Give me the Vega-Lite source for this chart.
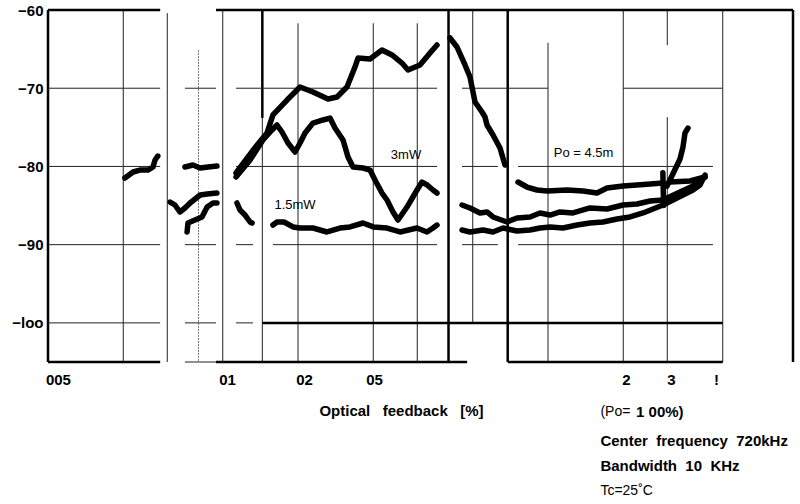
{
  "$schema": "https://vega.github.io/schema/vega-lite/v6.json",
  "width": 750,
  "height": 352,
  "autosize": {"type": "none"},
  "padding": {"left": 48, "top": 10, "right": 2, "bottom": 142},
  "background": "white",
  "config": {"view": {"stroke": null}, "font": "Liberation Sans"},
  "datasets": {
    "vthin": [
      {"pct": 0.02, "db": -60, "db2": -105},
      {"pct": 0.03, "db": -60.4, "db2": -105},
      {"pct": 0.05, "db": -60, "db2": -105},
      {"pct": 0.072, "db": -73.8, "db2": -105},
      {"pct": 0.1, "db": -61.7, "db2": -105},
      {"pct": 0.2, "db": -61.7, "db2": -105},
      {"pct": 0.3, "db": -61.7, "db2": -105},
      {"pct": 0.5, "db": -60, "db2": -100},
      {"pct": 1, "db": -64.2, "db2": -105},
      {"pct": 2, "db": -60, "db2": -105},
      {"pct": 3, "db": -60, "db2": -64.5},
      {"pct": 3, "db": -73.7, "db2": -105},
      {"pct": 5, "db": -60, "db2": -105}
    ],
    "vgray": [
      {"pct": 0.04, "db": -65.1, "db2": -105}
    ],
    "vthick": [
      {"pct": 0.01, "db": -60, "db2": -105},
      {"pct": 0.072, "db": -60, "db2": -73.8},
      {"pct": 0.4, "db": -60, "db2": -105},
      {"pct": 0.69, "db": -60, "db2": -105},
      {"pct": 9.55, "db": -60, "db2": -105}
    ],
    "hthin": [
      {"db": -70, "pct": 0.01, "pct2": 0.0281},
      {"db": -70, "pct": 0.0353, "pct2": 0.047},
      {"db": -70, "pct": 0.0565, "pct2": 0.36},
      {"db": -70, "pct": 0.453, "pct2": 1},
      {"db": -70, "pct": 2, "pct2": 5},
      {"db": -80, "pct": 0.01, "pct2": 0.0281},
      {"db": -80, "pct": 0.0353, "pct2": 0.047},
      {"db": -80, "pct": 0.0565, "pct2": 0.36},
      {"db": -80, "pct": 0.453, "pct2": 0.63},
      {"db": -80, "pct": 0.759, "pct2": 4.57},
      {"db": -90, "pct": 0.01, "pct2": 0.0281},
      {"db": -90, "pct": 0.0353, "pct2": 0.047},
      {"db": -90, "pct": 0.0565, "pct2": 0.0661},
      {"db": -90, "pct": 0.0794, "pct2": 0.36},
      {"db": -90, "pct": 0.453, "pct2": 0.63},
      {"db": -90, "pct": 0.759, "pct2": 4.57},
      {"db": -100, "pct": 0.01, "pct2": 0.0281},
      {"db": -100, "pct": 0.0353, "pct2": 0.047},
      {"db": -100, "pct": 0.0565, "pct2": 0.0661},
      {"db": -105, "pct": 0.0353, "pct2": 0.047}
    ],
    "hthick": [
      {"db": -60, "pct": 0.01, "pct2": 0.0281},
      {"db": -60, "pct": 0.047, "pct2": 9.55},
      {"db": -100, "pct": 0.072, "pct2": 5},
      {"db": -105, "pct": 0.01, "pct2": 0.0281},
      {"db": -105, "pct": 0.047, "pct2": 0.475},
      {"db": -105, "pct": 0.69, "pct2": 5}
    ],
    "curves": [
      {"seg": "a", "pct": 0.0203, "db": -81.48},
      {"seg": "a", "pct": 0.0219, "db": -80.71},
      {"seg": "a", "pct": 0.0233, "db": -80.46},
      {"seg": "a", "pct": 0.0251, "db": -80.46},
      {"seg": "a", "pct": 0.0263, "db": -80.07},
      {"seg": "a", "pct": 0.0268, "db": -79.18},
      {"seg": "a", "pct": 0.0275, "db": -78.67},

      {"seg": "b", "pct": 0.0353, "db": -80.07},
      {"seg": "b", "pct": 0.038, "db": -79.82},
      {"seg": "b", "pct": 0.0406, "db": -80.2},
      {"seg": "b", "pct": 0.0437, "db": -80.07},
      {"seg": "b", "pct": 0.0474, "db": -79.94},

      {"seg": "c", "pct": 0.0308, "db": -84.55},
      {"seg": "c", "pct": 0.0322, "db": -84.93},
      {"seg": "c", "pct": 0.0337, "db": -85.82},
      {"seg": "c", "pct": 0.0353, "db": -85.31},
      {"seg": "c", "pct": 0.037, "db": -84.67},
      {"seg": "c", "pct": 0.0406, "db": -83.65},
      {"seg": "c", "pct": 0.0433, "db": -83.52},
      {"seg": "c", "pct": 0.0474, "db": -83.4},

      {"seg": "d", "pct": 0.036, "db": -88.38},
      {"seg": "d", "pct": 0.0363, "db": -87.23},
      {"seg": "d", "pct": 0.0387, "db": -86.85},
      {"seg": "d", "pct": 0.0413, "db": -86.46},
      {"seg": "d", "pct": 0.0433, "db": -85.19},
      {"seg": "d", "pct": 0.0457, "db": -84.67},
      {"seg": "d", "pct": 0.0474, "db": -84.67},

      {"seg": "e", "pct": 0.057, "db": -84.67},
      {"seg": "e", "pct": 0.0586, "db": -85.57},
      {"seg": "e", "pct": 0.0614, "db": -86.21},
      {"seg": "e", "pct": 0.0643, "db": -87.1},
      {"seg": "e", "pct": 0.0655, "db": -87.23},

      {"seg": "f", "pct": 0.0565, "db": -80.84},
      {"seg": "f", "pct": 0.0614, "db": -79.3},
      {"seg": "f", "pct": 0.0673, "db": -77.6},
      {"seg": "f", "pct": 0.0718, "db": -76.5},
      {"seg": "f", "pct": 0.0752, "db": -75.72},
      {"seg": "f", "pct": 0.0794, "db": -73.42},
      {"seg": "f", "pct": 0.0904, "db": -71.51},
      {"seg": "f", "pct": 0.1019, "db": -69.84},
      {"seg": "f", "pct": 0.1148, "db": -70.48},
      {"seg": "f", "pct": 0.1318, "db": -71.38},
      {"seg": "f", "pct": 0.1432, "db": -71.12},
      {"seg": "f", "pct": 0.157, "db": -69.84},
      {"seg": "f", "pct": 0.169, "db": -67.29},
      {"seg": "f", "pct": 0.1738, "db": -66.14},
      {"seg": "f", "pct": 0.1941, "db": -66.26},
      {"seg": "f", "pct": 0.2168, "db": -65.11},
      {"seg": "f", "pct": 0.2377, "db": -65.75},
      {"seg": "f", "pct": 0.2606, "db": -66.78},
      {"seg": "f", "pct": 0.2754, "db": -67.67},
      {"seg": "f", "pct": 0.3076, "db": -67.03},
      {"seg": "f", "pct": 0.3373, "db": -65.5},
      {"seg": "f", "pct": 0.3597, "db": -64.47},

      {"seg": "g", "pct": 0.4055, "db": -63.58},
      {"seg": "g", "pct": 0.4325, "db": -64.73},
      {"seg": "g", "pct": 0.4656, "db": -67.03},
      {"seg": "g", "pct": 0.4875, "db": -68.57},
      {"seg": "g", "pct": 0.4966, "db": -69.84},
      {"seg": "g", "pct": 0.5105, "db": -71.76},
      {"seg": "g", "pct": 0.5445, "db": -73.04},
      {"seg": "g", "pct": 0.5598, "db": -73.68},
      {"seg": "g", "pct": 0.5702, "db": -74.7},
      {"seg": "g", "pct": 0.6026, "db": -75.98},
      {"seg": "g", "pct": 0.6427, "db": -77.64},
      {"seg": "g", "pct": 0.673, "db": -79.82},

      {"seg": "h", "pct": 0.7586, "db": -81.99},
      {"seg": "h", "pct": 0.8241, "db": -82.63},
      {"seg": "h", "pct": 0.9036, "db": -83.01},
      {"seg": "h", "pct": 0.9908, "db": -83.14},
      {"seg": "h", "pct": 1.191, "db": -83.01},
      {"seg": "h", "pct": 1.38, "db": -83.14},
      {"seg": "h", "pct": 1.57, "db": -83.4},
      {"seg": "h", "pct": 1.722, "db": -82.76},
      {"seg": "h", "pct": 1.995, "db": -82.5},
      {"seg": "h", "pct": 2.27, "db": -82.37},
      {"seg": "h", "pct": 2.559, "db": -82.25},
      {"seg": "h", "pct": 2.884, "db": -82.12},
      {"seg": "h", "pct": 2.992, "db": -82.5},
      {"seg": "h", "pct": 3.133, "db": -81.2},
      {"seg": "h", "pct": 3.373, "db": -79.05},
      {"seg": "h", "pct": 3.467, "db": -77.51},
      {"seg": "h", "pct": 3.532, "db": -75.72},
      {"seg": "h", "pct": 3.631, "db": -75.09},

      {"seg": "j", "pct": 0.0565, "db": -81.35},
      {"seg": "j", "pct": 0.0643, "db": -79.18},
      {"seg": "j", "pct": 0.0724, "db": -76.62},
      {"seg": "j", "pct": 0.0787, "db": -75.34},
      {"seg": "j", "pct": 0.0824, "db": -74.7},
      {"seg": "j", "pct": 0.0863, "db": -75.6},
      {"seg": "j", "pct": 0.0912, "db": -77.0},
      {"seg": "j", "pct": 0.0973, "db": -78.15},
      {"seg": "j", "pct": 0.1019, "db": -77.0},
      {"seg": "j", "pct": 0.1067, "db": -75.72},
      {"seg": "j", "pct": 0.1148, "db": -74.45},
      {"seg": "j", "pct": 0.1259, "db": -74.06},
      {"seg": "j", "pct": 0.1343, "db": -73.81},
      {"seg": "j", "pct": 0.1406, "db": -75.09},
      {"seg": "j", "pct": 0.1514, "db": -76.62},
      {"seg": "j", "pct": 0.1585, "db": -78.79},
      {"seg": "j", "pct": 0.166, "db": -80.07},
      {"seg": "j", "pct": 0.182, "db": -80.2},
      {"seg": "j", "pct": 0.1941, "db": -80.46},
      {"seg": "j", "pct": 0.2032, "db": -81.73},
      {"seg": "j", "pct": 0.2168, "db": -83.4},
      {"seg": "j", "pct": 0.227, "db": -84.29},
      {"seg": "j", "pct": 0.2399, "db": -85.82},
      {"seg": "j", "pct": 0.2512, "db": -86.85},
      {"seg": "j", "pct": 0.2729, "db": -85.19},
      {"seg": "j", "pct": 0.2992, "db": -83.01},
      {"seg": "j", "pct": 0.3133, "db": -81.99},
      {"seg": "j", "pct": 0.3281, "db": -82.37},
      {"seg": "j", "pct": 0.3467, "db": -83.01},
      {"seg": "j", "pct": 0.3597, "db": -83.4},

      {"seg": "i", "pct": 0.4529, "db": -84.93},
      {"seg": "i", "pct": 0.4875, "db": -85.31},
      {"seg": "i", "pct": 0.5346, "db": -85.95},
      {"seg": "i", "pct": 0.5702, "db": -85.82},
      {"seg": "i", "pct": 0.6026, "db": -86.46},
      {"seg": "i", "pct": 0.6855, "db": -87.1},
      {"seg": "i", "pct": 0.7516, "db": -86.59},
      {"seg": "i", "pct": 0.8472, "db": -86.46},
      {"seg": "i", "pct": 0.929, "db": -85.95},
      {"seg": "i", "pct": 1.019, "db": -86.21},
      {"seg": "i", "pct": 1.117, "db": -85.82},
      {"seg": "i", "pct": 1.259, "db": -85.95},
      {"seg": "i", "pct": 1.472, "db": -85.31},
      {"seg": "i", "pct": 1.722, "db": -85.44},
      {"seg": "i", "pct": 1.995, "db": -84.93},
      {"seg": "i", "pct": 2.27, "db": -84.8},
      {"seg": "i", "pct": 2.559, "db": -84.42},
      {"seg": "i", "pct": 2.884, "db": -84.29},
      {"seg": "i", "pct": 3.373, "db": -83.27},
      {"seg": "i", "pct": 3.802, "db": -82.5},
      {"seg": "i", "pct": 4.246, "db": -81.35},

      {"seg": "m", "pct": 3.076, "db": -81.99},
      {"seg": "m", "pct": 3.698, "db": -81.86},
      {"seg": "m", "pct": 4.246, "db": -81.35},

      {"seg": "n", "pct": 2.88, "db": -80.8},
      {"seg": "n", "pct": 2.9, "db": -85.0},

      {"seg": "l", "pct": 0.0794, "db": -87.49},
      {"seg": "l", "pct": 0.0824, "db": -87.1},
      {"seg": "l", "pct": 0.0879, "db": -87.1},
      {"seg": "l", "pct": 0.0955, "db": -87.73},
      {"seg": "l", "pct": 0.1019, "db": -87.87},
      {"seg": "l", "pct": 0.1148, "db": -87.87},
      {"seg": "l", "pct": 0.1306, "db": -88.38},
      {"seg": "l", "pct": 0.1472, "db": -87.87},
      {"seg": "l", "pct": 0.1614, "db": -87.73},
      {"seg": "l", "pct": 0.182, "db": -87.23},
      {"seg": "l", "pct": 0.2, "db": -87.73},
      {"seg": "l", "pct": 0.227, "db": -87.87},
      {"seg": "l", "pct": 0.2559, "db": -88.38},
      {"seg": "l", "pct": 0.2992, "db": -87.87},
      {"seg": "l", "pct": 0.3281, "db": -88.38},
      {"seg": "l", "pct": 0.3467, "db": -87.87},
      {"seg": "l", "pct": 0.3597, "db": -87.49},

      {"seg": "k", "pct": 0.4529, "db": -88.13},
      {"seg": "k", "pct": 0.4875, "db": -88.38},
      {"seg": "k", "pct": 0.5495, "db": -88.13},
      {"seg": "k", "pct": 0.6026, "db": -88.38},
      {"seg": "k", "pct": 0.6607, "db": -87.87},
      {"seg": "k", "pct": 0.7516, "db": -88.25},
      {"seg": "k", "pct": 0.8472, "db": -88.13},
      {"seg": "k", "pct": 0.929, "db": -87.87},
      {"seg": "k", "pct": 1.019, "db": -87.73},
      {"seg": "k", "pct": 1.148, "db": -87.87},
      {"seg": "k", "pct": 1.306, "db": -87.49},
      {"seg": "k", "pct": 1.472, "db": -87.23},
      {"seg": "k", "pct": 1.66, "db": -87.1},
      {"seg": "k", "pct": 1.888, "db": -86.72},
      {"seg": "k", "pct": 2.128, "db": -86.46},
      {"seg": "k", "pct": 2.399, "db": -85.95},
      {"seg": "k", "pct": 2.63, "db": -85.44},
      {"seg": "k", "pct": 2.884, "db": -84.93},
      {"seg": "k", "pct": 3.162, "db": -84.29},
      {"seg": "k", "pct": 3.467, "db": -83.65},
      {"seg": "k", "pct": 3.802, "db": -83.01},
      {"seg": "k", "pct": 4.055, "db": -82.37},
      {"seg": "k", "pct": 4.246, "db": -81.1}
    ],
    "curveLabels": [
      {"pct": 0.2704, "db": -78.54, "label": "3mW"},
      {"pct": 0.0973, "db": -84.93, "label": "1.5mW"},
      {"pct": 1.387, "db": -78.3, "label": "Po = 4.5m"}
    ],
    "notesNormal": [
      {"pct": 1.62, "db": -111.39, "label": "(Po="},
      {"pct": 1.62, "db": -121.49, "label": "Tc=25˚C"}
    ],
    "notesBold": [
      {"pct": 2.25, "db": -111.39, "label": "1 00%)"},
      {"pct": 1.62, "db": -115.1, "label": "Center\u00a0\u00a0frequency\u00a0\u00a0720kHz"},
      {"pct": 1.62, "db": -118.3, "label": "Bandwidth\u00a0\u00a010\u00a0\u00a0KHz"}
    ]
  },
  "encoding": {
    "x": {
      "field": "pct",
      "type": "quantitative",
      "scale": {"type": "log", "domain": [0.01, 10]},
      "axis": {
        "title": "Optical\u00a0\u00a0\u00a0feedback\u00a0\u00a0\u00a0[%]",
        "values": [0.01096, 0.052, 0.1057, 0.2014, 2.051, 3.105, 4.699],
        "labelExpr": "datum.value < 0.02 ? '005' : datum.value < 0.08 ? '01' : datum.value < 0.15 ? '02' : datum.value < 1 ? '05' : datum.value < 2.5 ? '2' : datum.value < 4 ? '3' : '!'",
        "domain": false,
        "ticks": false,
        "grid": false,
        "labelPadding": 10,
        "labelFont": "Liberation Sans",
        "labelFontSize": 15,
        "labelFontWeight": "bold",
        "labelColor": "black",
        "labelFlush": false,
        "labelOverlap": false,
        "titleFont": "Liberation Sans",
        "titleFontSize": 15,
        "titleFontWeight": "bold",
        "titleColor": "black",
        "titleX": 353,
        "titleY": 48,
        "titleAlign": "center",
        "titleBaseline": "middle"
      }
    },
    "y": {
      "field": "db",
      "type": "quantitative",
      "scale": {"domain": [-105, -60], "zero": false, "nice": false},
      "axis": {
        "title": null,
        "values": [-60, -70, -80, -90, -100],
        "labelExpr": "datum.value == -100 ? '\u2212loo' : datum.label",
        "domain": false,
        "ticks": false,
        "grid": false,
        "labelPadding": 5,
        "labelFont": "Liberation Sans",
        "labelFontSize": 15,
        "labelFontWeight": "bold",
        "labelColor": "black",
        "labelFlush": false
      }
    }
  },
  "layer": [
    {
      "data": {"name": "vthin"},
      "mark": {"type": "rule", "color": "#222", "strokeWidth": 1},
      "encoding": {"y2": {"field": "db2"}}
    },
    {
      "data": {"name": "vgray"},
      "mark": {"type": "rule", "color": "#777", "strokeWidth": 1, "strokeDash": [2, 1]},
      "encoding": {"y2": {"field": "db2"}}
    },
    {
      "data": {"name": "vthick"},
      "mark": {"type": "rule", "color": "black", "strokeWidth": 2.5},
      "encoding": {"y2": {"field": "db2"}}
    },
    {
      "data": {"name": "hthin"},
      "mark": {"type": "rule", "color": "#222", "strokeWidth": 1},
      "encoding": {"x2": {"field": "pct2"}}
    },
    {
      "data": {"name": "hthick"},
      "mark": {"type": "rule", "color": "black", "strokeWidth": 2.5},
      "encoding": {"x2": {"field": "pct2"}}
    },
    {
      "data": {"name": "curves"},
      "mark": {"type": "line", "color": "black", "strokeWidth": 5.5, "strokeCap": "round", "strokeJoin": "round"},
      "encoding": {"detail": {"field": "seg"}}
    },
    {
      "data": {"name": "curveLabels"},
      "mark": {"type": "text", "fontSize": 13, "font": "Liberation Sans", "color": "black", "align": "center", "baseline": "middle"},
      "encoding": {"text": {"field": "label"}}
    },
    {
      "data": {"name": "notesNormal"},
      "mark": {"type": "text", "fontSize": 14, "font": "Liberation Sans", "color": "black", "align": "left", "baseline": "middle"},
      "encoding": {"text": {"field": "label"}}
    },
    {
      "data": {"name": "notesBold"},
      "mark": {"type": "text", "fontSize": 15, "fontWeight": "bold", "font": "Liberation Sans", "color": "black", "align": "left", "baseline": "middle"},
      "encoding": {"text": {"field": "label"}}
    }
  ]
}
